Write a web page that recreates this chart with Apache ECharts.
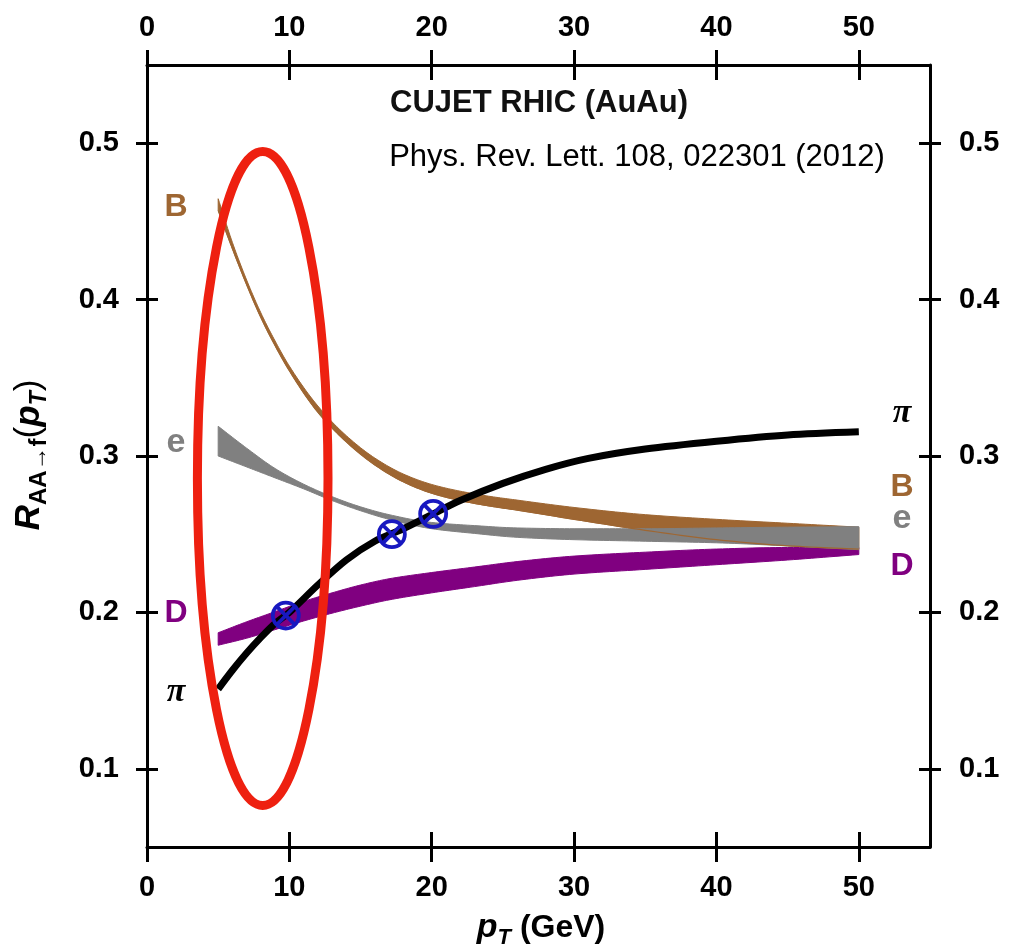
<!DOCTYPE html>
<html><head><meta charset="utf-8">
<script src="https://cdn.jsdelivr.net/npm/echarts@6/dist/echarts.min.js"></script>
<style>html,body{margin:0;padding:0;background:#fff}#c{width:1012px;height:949px}</style>
</head><body><div id="c"></div>
<script>
// ---- data ----
const xTicks = [0, 10, 20, 30, 40, 50];
const yTicks = [0.1, 0.2, 0.3, 0.4, 0.5];

const piX = [5, 6, 7, 8, 9, 10, 12, 14, 16, 18, 20, 22, 25, 28, 31, 35, 40, 45, 50];
const piY = [0.151, 0.163, 0.174, 0.184, 0.193, 0.200, 0.2175, 0.2335, 0.2455, 0.2535, 0.2625, 0.2715, 0.2825, 0.2915, 0.2985, 0.3045, 0.3095, 0.3135, 0.3155];

const bX    = [5, 6, 7, 8, 9, 10, 12, 14, 16, 18, 20, 22, 24, 26, 30, 35, 40, 45, 50];
const bHigh = [0.4645, 0.4365, 0.4125, 0.3915, 0.3735, 0.3575, 0.332, 0.313, 0.2987, 0.2885, 0.2818, 0.2775, 0.2743, 0.2718, 0.2671, 0.2625, 0.2595, 0.257, 0.2545];
const bLow  = [0.457, 0.4325, 0.4095, 0.3885, 0.3705, 0.3545, 0.328, 0.309, 0.2943, 0.2835, 0.2762, 0.2715, 0.2681, 0.2654, 0.2595, 0.2525, 0.2465, 0.2426, 0.2405];

const eX    = [5, 7, 9, 11, 13, 15, 17, 20, 23, 26, 30, 35, 40, 45, 50];
const eHigh = [0.319, 0.305, 0.292, 0.282, 0.274, 0.2675, 0.2625, 0.2575, 0.2555, 0.254, 0.2535, 0.2535, 0.2540, 0.2545, 0.2548];
const eLow  = [0.300, 0.293, 0.286, 0.279, 0.2715, 0.265, 0.2595, 0.2535, 0.2505, 0.248, 0.2465, 0.2455, 0.2445, 0.2425, 0.2401];

const dX    = [5, 7, 9, 11, 13, 15, 17, 20, 23, 26, 30, 35, 40, 45, 50];
const dHigh = [0.187, 0.194, 0.2005, 0.207, 0.2125, 0.2175, 0.2215, 0.2255, 0.229, 0.2325, 0.236, 0.2385, 0.2405, 0.2415, 0.2415];
const dLow  = [0.179, 0.1835, 0.189, 0.1945, 0.1995, 0.204, 0.208, 0.2125, 0.2165, 0.2205, 0.2245, 0.2275, 0.2305, 0.2335, 0.237];

const markX = [9.75, 17.2, 20.1];
const markY = [0.198, 0.250, 0.263];

const titleText = 'CUJET RHIC (AuAu)';
const citeText = 'Phys. Rev. Lett. 108, 022301 (2012)';

// ---- colours ----
const C_B = '#9e6632', C_E = '#808080', C_D = '#800080', C_PI = '#000000', C_MARK = '#1818c0', C_RED = '#ee2010';
const SANS = '"Liberation Sans", Arial, Helvetica, sans-serif';
const SERIF = '"Liberation Serif", "Times New Roman", serif';

// smooth pixel path through pixel points (monotone cubic Hermite in x), for drawing only
function smoothPath(pts, steps) {
  const n = pts.length;
  if (n < 3) return pts.slice();
  const dx = [], m = [], t = [];
  for (let i = 0; i < n - 1; i++) { dx[i] = pts[i + 1][0] - pts[i][0]; m[i] = (pts[i + 1][1] - pts[i][1]) / dx[i]; }
  t[0] = m[0]; t[n - 1] = m[n - 2];
  for (let i = 1; i < n - 1; i++) {
    if (m[i - 1] * m[i] <= 0) t[i] = 0;
    else { const w1 = 2 * dx[i] + dx[i - 1], w2 = dx[i] + 2 * dx[i - 1]; t[i] = (w1 + w2) / (w1 / m[i - 1] + w2 / m[i]); }
  }
  const out = [];
  for (let i = 0; i < n - 1; i++) {
    for (let s = 0; s < steps; s++) {
      const u = s / steps, h = dx[i];
      const h00 = 2 * u * u * u - 3 * u * u + 1, h10 = u * u * u - 2 * u * u + u, h01 = -2 * u * u * u + 3 * u * u, h11 = u * u * u - u * u;
      out.push([pts[i][0] + u * h, h00 * pts[i][1] + h10 * h * t[i] + h01 * pts[i + 1][1] + h11 * h * t[i + 1]]);
    }
  }
  out.push(pts[n - 1]);
  return out;
}

function bandSeries(xs, lo, hi, color, z) {
  return {
    type: 'custom', coordinateSystem: 'cartesian2d', z: z, silent: true, clip: false,
    data: xs.map((x, i) => [x, lo[i], hi[i]]),
    encode: { x: 0, y: [1, 2] },
    renderItem: function (params, api) {
      if (params.dataIndex !== 0) return null;
      const up = smoothPath(xs.map((x, i) => api.coord([x, hi[i]])), 12);
      const dn = smoothPath(xs.map((x, i) => api.coord([x, lo[i]])), 12);
      return { type: 'polygon', shape: { points: up.concat(dn.reverse()) },
        style: { fill: color, stroke: color, lineWidth: 1 } };
    }
  };
}
function edgeSeries(xs, ys, color, width, z) {
  return {
    type: 'custom', coordinateSystem: 'cartesian2d', z: z, silent: true, clip: false,
    data: xs.map((x, i) => [x, ys[i]]),
    renderItem: function (params, api) {
      if (params.dataIndex !== 0) return null;
      const pts = smoothPath(xs.map((x, i) => api.coord([x, ys[i]])), 12);
      return { type: 'polyline', shape: { points: pts }, style: { fill: 'none', stroke: color, lineWidth: width } };
    }
  };
}

const chart = echarts.init(document.getElementById('c'), null, { renderer: 'canvas' });

const labelFont = { fontFamily: SANS, fontWeight: 'bold', fontSize: 29, color: '#000' };
const lineSt = { color: '#000', width: 3 };

function xAx(pos, inside, labels) {
  return {
    type: 'value', position: pos, min: 0, max: 55, gridIndex: 0,
    axisLine: { show: !inside, onZero: false, lineStyle: lineSt },
    axisTick: { show: true, inside: inside, length: 15, lineStyle: lineSt, customValues: xTicks },
    axisLabel: labels ? Object.assign({ show: true, margin: pos === 'bottom' ? 26 : 23, customValues: xTicks }, labelFont) : { show: false },
    splitLine: { show: false }
  };
}
function yAx(pos, inside, labels) {
  return {
    type: 'value', position: pos, min: 0.05, max: 0.55, gridIndex: 0,
    axisLine: { show: !inside, onZero: false, lineStyle: lineSt },
    axisTick: { show: true, inside: inside, length: 11, lineStyle: lineSt, customValues: yTicks },
    axisLabel: labels ? Object.assign({ show: true, margin: pos === 'left' ? 28 : 29, customValues: yTicks,
      formatter: v => v.toFixed(1) }, labelFont) : { show: false },
    splitLine: { show: false }
  };
}

const series = [
  bandSeries(dX, dLow, dHigh, C_D, 2),
  bandSeries(bX, bLow, bHigh, C_B, 3),
  bandSeries(eX, eLow, eHigh, C_E, 4),
  edgeSeries(bX, bLow, C_B, 1.2, 5),
  {
    name: 'pi', type: 'line', data: piX.map((x, i) => [x, piY[i]]), symbol: 'none', smooth: 0.3,
    lineStyle: { color: C_PI, width: 7, cap: 'butt' }, z: 6, silent: true
  },
  {
    name: 'marks', type: 'custom', coordinateSystem: 'cartesian2d', z: 10, silent: true,
    data: markX.map((x, i) => [x, markY[i]]),
    renderItem: function (params, api) {
      const p = api.coord([api.value(0), api.value(1)]);
      const r = 13, d = r * 0.7071;
      const st = { stroke: C_MARK, lineWidth: 3.8 };
      return { type: 'group', children: [
        { type: 'circle', shape: { cx: p[0], cy: p[1], r: r }, style: { fill: 'none', stroke: C_MARK, lineWidth: 3.8 } },
        { type: 'line', shape: { x1: p[0] - d, y1: p[1] - d, x2: p[0] + d, y2: p[1] + d }, style: st },
        { type: 'line', shape: { x1: p[0] - d, y1: p[1] + d, x2: p[0] + d, y2: p[1] - d }, style: st }
      ] };
    }
  }
];

function txt(text, x, y, color, size, family, style) {
  return { type: 'text', x: x, y: y, z: 20, silent: true,
    style: { text: text, x: 0, y: 0, fill: color, font: (style || 'normal') + ' bold ' + size + 'px ' + (family || SANS),
      textAlign: 'center', align: 'center', textVerticalAlign: 'middle', verticalAlign: 'middle' } };
}

const graphics = [
  { type: 'text', x: 539, y: 103, z: 20, silent: true,
    style: { text: titleText, x: 0, y: 0, fill: '#111', font: 'bold 31px ' + SANS, textAlign: 'center', align: 'center', textVerticalAlign: 'middle', verticalAlign: 'middle' } },
  { type: 'text', x: 637, y: 157, z: 20, silent: true,
    style: { text: citeText, x: 0, y: 0, fill: '#000', font: 'normal 31px ' + SANS, textAlign: 'center', align: 'center', textVerticalAlign: 'middle', verticalAlign: 'middle' } },
  txt('B', 176, 207, C_B, 32),
  txt('e', 176, 443, C_E, 34),
  txt('D', 176, 613, C_D, 32),
  txt('π', 176, 692, '#000', 34, SERIF, 'italic'),
  txt('π', 902, 413, '#000', 34, SERIF, 'italic'),
  txt('B', 902, 487, C_B, 32),
  txt('e', 902, 519, C_E, 34),
  txt('D', 902, 566, C_D, 32),
  { type: 'text', x: 29, y: 455, rotation: Math.PI / 2, z: 20, silent: true,
    style: {
      text: '{r|R}{s|AA→f}{n|(}{p|p}{t|T}{n|)}', x: 0, y: 0,
      textAlign: 'center', align: 'center', textVerticalAlign: 'middle', verticalAlign: 'middle',
      rich: {
        r: { fontFamily: SANS, fontWeight: 'bold', fontStyle: 'italic', fontSize: 35, fill: '#000', color: '#000', lineHeight: 44, verticalAlign: 'middle' },
        s: { fontFamily: SANS, fontWeight: 'bold', fontSize: 24, fill: '#000', color: '#000', lineHeight: 44, verticalAlign: 'bottom' },
        n: { fontFamily: SANS, fontWeight: 'normal', fontSize: 35, fill: '#000', color: '#000', lineHeight: 44, verticalAlign: 'middle' },
        p: { fontFamily: SANS, fontWeight: 'bold', fontStyle: 'italic', fontSize: 35, fill: '#000', color: '#000', lineHeight: 44, verticalAlign: 'middle' },
        t: { fontFamily: SANS, fontWeight: 'bold', fontStyle: 'italic', fontSize: 23, fill: '#000', color: '#000', lineHeight: 44, verticalAlign: 'bottom' }
      }
    } },
  { type: 'text', x: 541, y: 928, z: 20, silent: true,
    style: {
      text: '{p|p}{t|T}{n| (GeV)}', x: 0, y: 0,
      textAlign: 'center', align: 'center', textVerticalAlign: 'middle', verticalAlign: 'middle',
      rich: {
        p: { fontFamily: SANS, fontWeight: 'bold', fontStyle: 'italic', fontSize: 34, fill: '#000', color: '#000', lineHeight: 42, verticalAlign: 'middle' },
        t: { fontFamily: SANS, fontWeight: 'bold', fontStyle: 'italic', fontSize: 22, fill: '#000', color: '#000', lineHeight: 42, verticalAlign: 'bottom' },
        n: { fontFamily: SANS, fontWeight: 'bold', fontSize: 32, fill: '#000', color: '#000', lineHeight: 42, verticalAlign: 'middle' }
      }
    } },
  { type: 'ellipse', z: 30, silent: true,
    shape: { cx: 262.7, cy: 478.5, rx: 65.3, ry: 327 },
    style: { fill: 'none', stroke: C_RED, lineWidth: 9 } }
];

chart.setOption({
  animation: false,
  backgroundColor: '#fff',
  grid: { left: 147, right: 82, top: 65, bottom: 102, containLabel: false },
  xAxis: [xAx('bottom', false, true), xAx('bottom', true, false), xAx('top', false, true), xAx('top', true, false)],
  yAxis: [yAx('left', false, true), yAx('left', true, false), yAx('right', false, true), yAx('right', true, false)],
  series: series.map(s => Object.assign({ xAxisIndex: 0, yAxisIndex: 0 }, s)),
  graphic: graphics
});
</script></body></html>
